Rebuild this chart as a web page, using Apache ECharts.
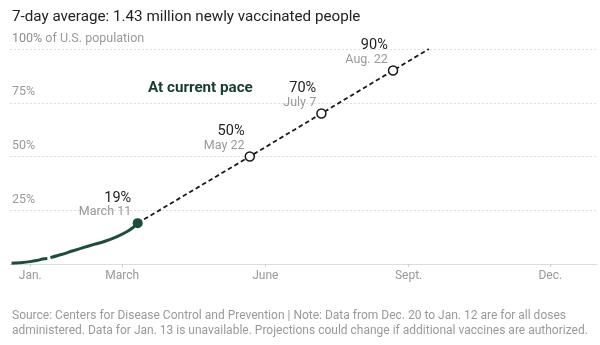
<!DOCTYPE html>
<html>
<head>
<meta charset="utf-8">
<script src="https://cdn.jsdelivr.net/npm/echarts@6/dist/echarts.min.js"></script>
<style>
html,body{margin:0;padding:0;background:#fff;}
#chart{width:600px;height:345px;}
</style>
</head>
<body>
<div id="chart"></div>
<script>
// ---- data ----
const actualDates = ['2020-12-20','2020-12-27','2021-01-01','2021-01-05','2021-01-09','2021-01-12','2021-01-13','2021-01-14','2021-01-21','2021-01-28','2021-02-04','2021-02-11','2021-02-18','2021-02-25','2021-03-04','2021-03-08','2021-03-11'];
const actualPct = [0.3,0.65,1.1,1.6,2.3,2.6,null,2.95,4.4,6.05,7.6,9.1,10.6,12.5,15.0,17.0,19.0];

const currentDate = '2021-03-11';
const currentPct = 19;
const currentLabel = 'March 11';

const projDates = ['2021-03-11','2021-05-22','2021-07-07','2021-08-22','2021-09-14'];
const projPct = [19,50,70,90,100];
const projLabels = [null,'May 22','July 7','Aug. 22',null];

const tickDates = ['2021-01-01','2021-03-01','2021-06-01','2021-09-01','2021-12-01'];
const tickLabels = ['Jan.','March','June','Sept.','Dec.'];

const axisStart = '2020-12-19';
const axisEnd = '2021-12-31';

// ---- helpers ----
function day(s){
  const p = s.split('-').map(Number);
  return (Date.UTC(p[0],p[1]-1,p[2]) - Date.UTC(2021,0,1)) / 86400000;
}
const FONT = 'Roboto, sans-serif';
const GREEN = '#1c4e3b';

const tickDays = tickDates.map(day);
const actualData = actualDates.map((d,i)=>[day(d), actualPct[i]]);

const richLabel = {
  v:{fontFamily:FONT,fontSize:14.5,color:'#222',lineHeight:14,align:'right'},
  d:{fontFamily:FONT,fontSize:12.5,color:'#999',lineHeight:14,align:'right'}
};

const projData = projDates.map((d,i)=>{
  const item = {value:[day(d), projPct[i]]};
  if (projLabels[i]) {
    item.symbol = 'circle';
    item.symbolSize = 9;
    item.label = {
      show:true, position:'left', distance:0, offset:[0,-18],
      formatter: '{v|' + projPct[i] + '%}\n{d|' + projLabels[i] + '}',
      rich: richLabel
    };
  } else {
    item.symbol = 'none';
  }
  return item;
});

const chart = echarts.init(document.getElementById('chart'), null, {renderer:'canvas'});
chart.setOption({
  animation:false,
  backgroundColor:'#fff',
  grid:{left:10,right:3,top:49,bottom:81,containLabel:false},
  xAxis:{
    type:'value',
    min:day(axisStart), max:day(axisEnd),
    axisLine:{show:true,lineStyle:{color:'#ddd',width:1}},
    axisTick:{show:true,customValues:tickDays,length:3,lineStyle:{color:'#ccc'}},
    axisLabel:{
      customValues:tickDays, margin:6,
      fontFamily:FONT, fontSize:12, color:'#999',
      formatter:(v)=>{const i = tickDays.indexOf(v); return i>=0 ? tickLabels[i] : '';}
    },
    splitLine:{show:false}
  },
  yAxis:{
    type:'value', min:0, max:100, interval:25,
    axisLine:{show:false}, axisTick:{show:false},
    axisLabel:{
      inside:true, margin:2, verticalAlign:'bottom', padding:[0,0,4,0],
      fontFamily:FONT, fontSize:12.5, color:'#999',
      formatter:(v)=> v===0 ? '' : (v===100 ? '{b|100%} of U.S. population' : v + '%'),
      rich:{b:{fontFamily:FONT,fontSize:12.5,color:'#8c8c8c'}}
    },
    splitLine:{show:true,lineStyle:{color:'#ddd',type:[2,2],width:1}}
  },
  series:[
    {
      type:'line', data:projData, z:2,
      symbol:'none',
      lineStyle:{color:'#1a1a1a',width:1.8,type:[4.5,3]},
      itemStyle:{color:'#fff',borderColor:'#1a1a1a',borderWidth:1.5,opacity:1},
      silent:true
    },
    {
      type:'line', data:actualData, z:3,
      symbol:'none', connectNulls:false, smooth:0.3,
      lineStyle:{color:GREEN,width:3}
    },
    {
      type:'scatter', z:4,
      data:[{value:[day(currentDate), currentPct],
        label:{show:true, position:'left', distance:1.5, offset:[0,-18],
          formatter:'{v|' + currentPct + '%}\n{d|' + currentLabel + '}', rich:richLabel}}],
      symbolSize:10,
      itemStyle:{color:GREEN,opacity:1}
    }
  ],
  graphic:[
    {type:'text', left:12, top:10, style:{text:'7-day average: 1.43 million newly vaccinated people', fontFamily:FONT, fontSize:15.2, fill:'#222'}},
    {type:'text', left:148, top:81, style:{text:'At current pace', fontFamily:FONT, fontSize:15.2, fontWeight:'bold', fill:'#173f30'}},
    {type:'text', left:12, top:308, style:{text:'Source: Centers for Disease Control and Prevention | Note: Data from Dec. 20 to Jan. 12 are for all doses\nadministered. Data for Jan. 13 is unavailable. Projections could change if additional vaccines are authorized.', fontFamily:FONT, fontSize:12, lineHeight:15.5, fill:'#999'}}
  ]
});
</script>
</body>
</html>
